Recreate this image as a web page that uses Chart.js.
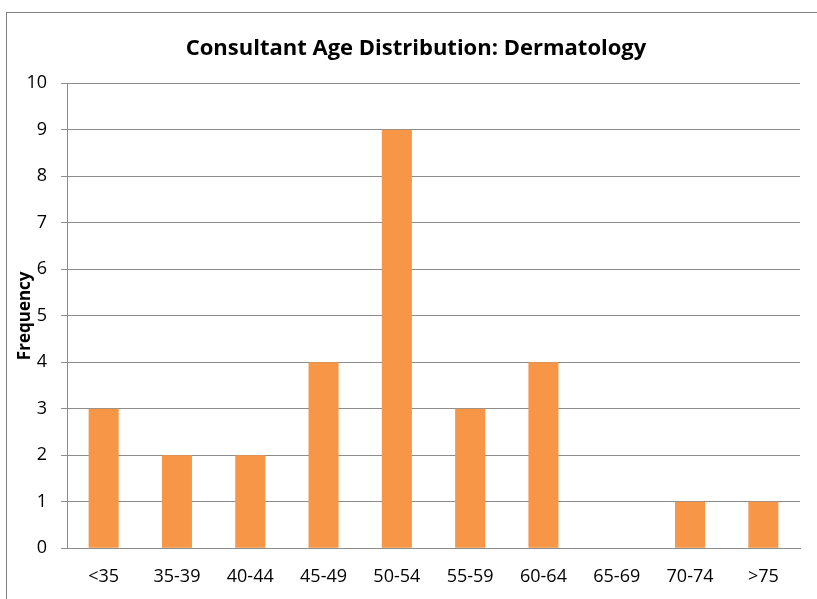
<!DOCTYPE html>
<html>
<head>
<meta charset="utf-8">
<script src="https://cdn.jsdelivr.net/npm/chart.js@4"></script>
<style>
  body { margin: 0; background: #fff; }
  #wrap { position: relative; width: 817px; height: 599px; overflow: hidden; }
  #frame {
    position: absolute; left: 6px; top: 12px; width: 900px; height: 700px;
    border-left: 1px solid #808080; border-top: 1px solid #808080;
  }
  canvas { position: absolute; left: 0; top: 0; }
</style>
</head>
<body>
<div id="wrap">
  <div id="frame"></div>
  <canvas id="ageChart" width="817" height="599"></canvas>
</div>
<script>
// chart data
const ageBands = ["<35", "35-39", "40-44", "45-49", "50-54", "55-59", "60-64", "65-69", "70-74", ">75"];
const consultants = [3, 2, 2, 4, 9, 3, 4, 0, 1, 1];
const yMin = 0;
const yMax = 10;
const yStep = 1;

const fontFace = "'Open Sans', 'Noto Sans', sans-serif";
const gridGrey = "#8c8c8c";

const ctx = document.getElementById("ageChart");

new Chart(ctx, {
  type: "bar",
  data: {
    labels: ageBands,
    datasets: [
      {
        label: "Frequency",
        data: consultants,
        backgroundColor: "#F79646",
        borderWidth: 0,
        categoryPercentage: 1,
        barPercentage: 0.41,
      },
    ],
  },
  options: {
    responsive: false,
    animation: false,
    devicePixelRatio: 1,
    // the frame runs past the right edge, so the title sits right of the canvas centre
    layout: {
      padding: { top: 0, right: -15, bottom: 0, left: 0 },
    },
    plugins: {
      legend: { display: false },
      tooltip: { enabled: false },
      title: {
        display: true,
        text: "Consultant Age Distribution: Dermatology",
        color: "#000",
        font: { family: fontFace, size: 22, weight: "bold" },
        padding: { top: 35.8, bottom: 21.1 },
      },
    },
    scales: {
      x: {
        afterFit(scale) {
          scale.height = 50.7;
        },
        grid: { display: false, drawTicks: false, tickLength: 0 },
        border: { display: true, color: gridGrey, width: 1 },
        ticks: {
          color: "#000",
          padding: 18,
          font: { family: fontFace, size: 18 },
          maxRotation: 0,
          autoSkip: false,
        },
      },
      y: {
        min: yMin,
        max: yMax,
        afterFit(scale) {
          scale.width = 67;
        },
        grid: { color: gridGrey, lineWidth: 1, tickLength: 6 },
        border: { display: true, color: gridGrey, width: 1 },
        ticks: {
          stepSize: yStep,
          color: "#000",
          padding: 14,
          font: { family: fontFace, size: 18 },
        },
        title: {
          display: true,
          text: "Frequency",
          color: "#000",
          font: { family: fontFace, size: 17, weight: "bold" },
          padding: { top: 15, bottom: 0 },
        },
      },
      // empty spacer on the right
      spacer: {
        type: "linear",
        position: "right",
        afterFit(scale) {
          scale.width = 32;
        },
        grid: { display: false },
        border: { display: false },
        ticks: { display: false },
      },
    },
  },
});
</script>
</body>
</html>
